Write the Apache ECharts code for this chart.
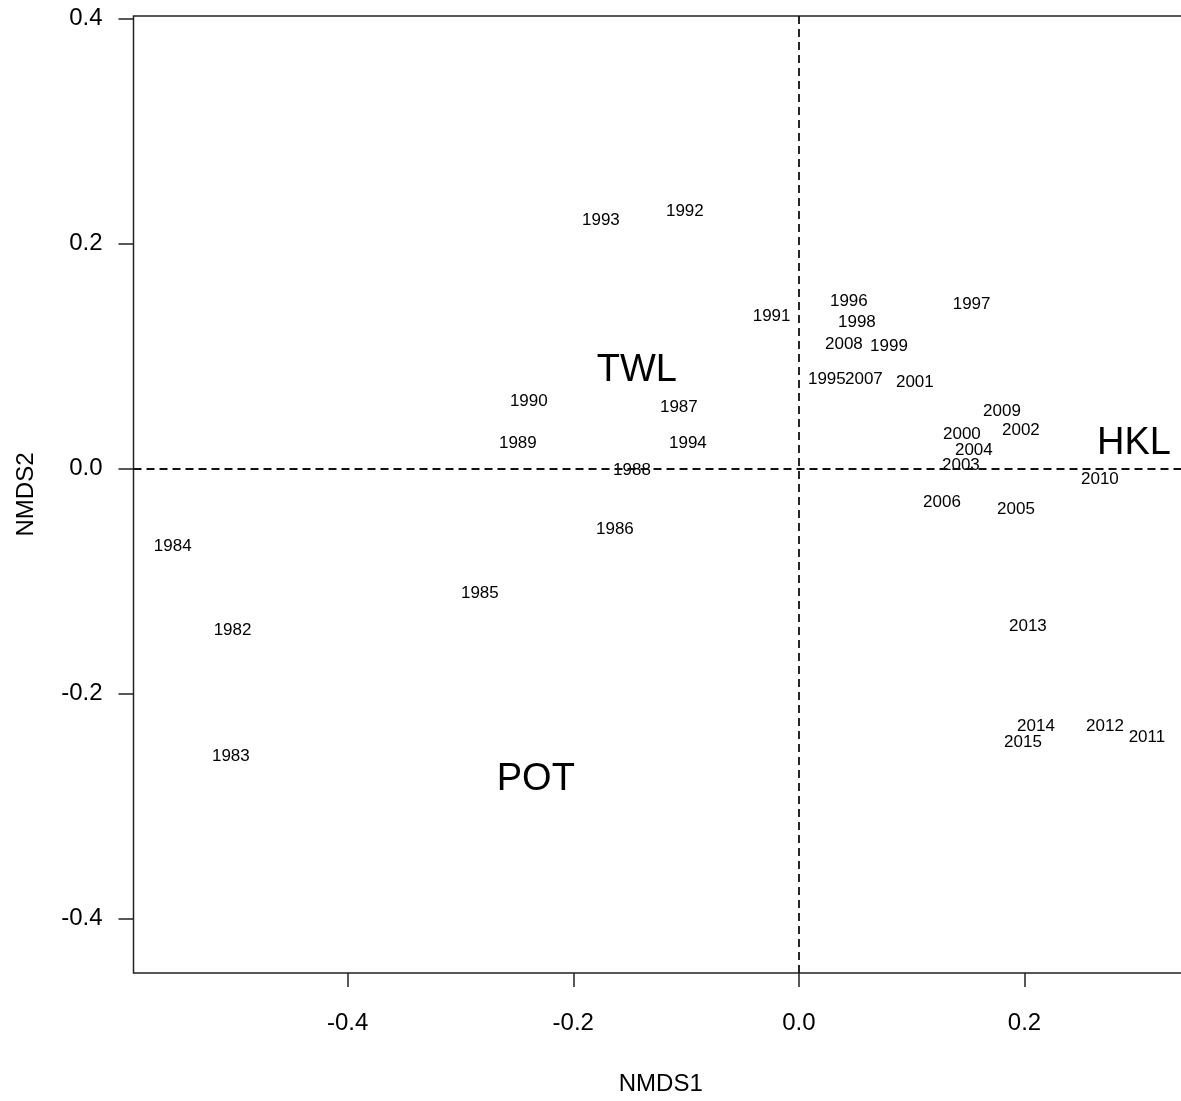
<!DOCTYPE html>
<html>
<head>
<meta charset="utf-8">
<script src="https://cdn.jsdelivr.net/npm/echarts@6/dist/echarts.min.js"></script>
<style>
html,body{margin:0;padding:0;background:#fff;overflow:hidden;}
#chart{width:1200px;height:1101px;}
</style>
</head>
<body>
<div id="chart"></div>
<script>
const years = ['1982','1983','1984','1985','1986','1987','1988','1989','1990','1991','1992','1993','1994','1995','1996','1997','1998','1999','2000','2001','2002','2003','2004','2005','2006','2007','2008','2009','2010','2011','2012','2013','2014','2015'];
const nmds1 = [-0.502,-0.5035,-0.555,-0.2828,-0.1631,-0.1064,-0.148,-0.2491,-0.2394,-0.0242,-0.1011,-0.1755,-0.0984,0.0248,0.0443,0.1531,0.0514,0.0798,0.1445,0.1028,0.1968,0.1436,0.1551,0.1924,0.1268,0.0576,0.0399,0.18,0.2668,0.3085,0.2713,0.203,0.2101,0.1986];
const nmds2 = [-0.1436,-0.2553,-0.0691,-0.1108,-0.0541,0.055,-0.0018,0.0222,0.0603,0.1356,0.2287,0.2207,0.0222,0.0798,0.1492,0.1463,0.1303,0.109,0.031,0.0771,0.0346,0.0027,0.016,-0.0363,-0.0301,0.0798,0.1108,0.0514,-0.0098,-0.2385,-0.2287,-0.1401,-0.2287,-0.2429];
const groupNames = ['TWL','HKL','POT'];
const groupX = [-0.1436,0.297,-0.2332];
const groupY = [0.0869,0.0222,-0.2766];
const xTicks = [-0.4,-0.2,0,0.2];
const yTicks = [-0.4,-0.2,0,0.2,0.4];
const xRange = [-0.5898,0.3449];
const yRange = [-0.4483,0.4025];

const FONT = '"Liberation Sans", Arial, sans-serif';
const chart = echarts.init(document.getElementById('chart'));
const fmt = v => Number(v).toFixed(1);

chart.setOption({
  animation:false,
  backgroundColor:'#fff',
  grid:{left:133.5,top:16,width:1054.5,height:960,show:true,borderColor:'#222',borderWidth:1.5,backgroundColor:'transparent'},
  xAxis:{
    type:'value',min:xRange[0],max:xRange[1],
    name:'NMDS1',nameLocation:'middle',nameGap:99,
    nameTextStyle:{fontFamily:FONT,fontSize:24,color:'#000'},
    axisLine:{show:false,onZero:false},
    splitLine:{show:false},
    axisTick:{show:true,inside:false,length:14,customValues:xTicks,lineStyle:{color:'#222',width:1.5}},
    axisLabel:{customValues:xTicks,formatter:fmt,margin:38,fontFamily:FONT,fontSize:24,color:'#000'}
  },
  yAxis:{
    type:'value',min:yRange[0],max:yRange[1],
    name:'NMDS2',nameLocation:'middle',nameGap:95,
    nameTextStyle:{fontFamily:FONT,fontSize:24,color:'#000'},
    axisLine:{show:false,onZero:false},
    splitLine:{show:false},
    axisTick:{show:true,inside:false,length:15,customValues:yTicks,lineStyle:{color:'#222',width:1.5}},
    axisLabel:{customValues:yTicks,formatter:fmt,margin:31,fontFamily:FONT,fontSize:24,color:'#000'}
  },
  series:[
    {
      type:'scatter',
      symbolSize:1,
      itemStyle:{color:'rgba(0,0,0,0)',opacity:1},
      emphasis:{disabled:true},
      data:years.map((y,i)=>[nmds1[i],nmds2[i],y]),
      label:{show:true,position:'inside',opacity:1,formatter:p=>p.data[2],fontFamily:FONT,fontSize:17,color:'#000'},
      markLine:{
        silent:true,symbol:['none','none'],
        label:{show:false},
        lineStyle:{type:[8,5],color:'#111',width:1.8,opacity:1},
        data:[{xAxis:0},{yAxis:0}]
      },
      z:3
    },
    {
      type:'scatter',
      symbolSize:1,
      itemStyle:{color:'rgba(0,0,0,0)',opacity:1},
      emphasis:{disabled:true},
      data:groupNames.map((g,i)=>[groupX[i],groupY[i],g]),
      label:{show:true,position:'inside',opacity:1,formatter:p=>p.data[2],fontFamily:FONT,fontSize:38,color:'#000'},
      z:3
    }
  ]
});
</script>
</body>
</html>
